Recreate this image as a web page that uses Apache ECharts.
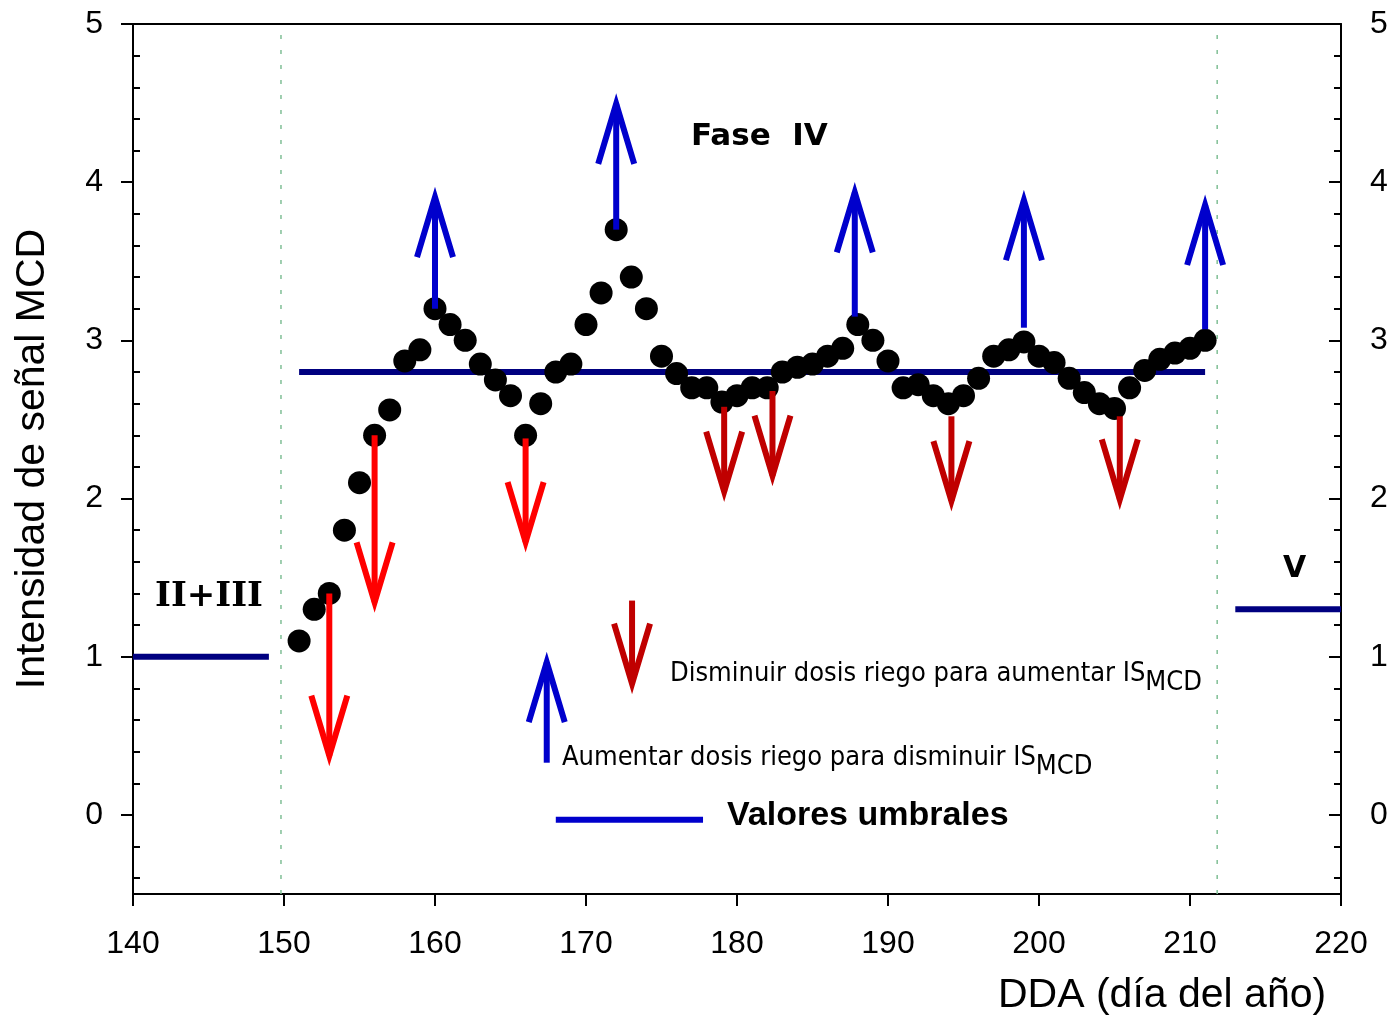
<!DOCTYPE html>
<html><head><meta charset="utf-8">
<script src="https://cdn.jsdelivr.net/npm/echarts@6/dist/echarts.min.js"></script>
<style>html,body{margin:0;padding:0;background:#fff}#c{width:1393px;height:1017px}</style>
</head><body><div id="c"></div>
<script>
// ---- data ----
const days = [151,152,153,154,155,156,157,158,159,160,161,162,163,164,165,166,167,168,169,170,
  171,172,173,174,175,176,177,178,179,180,181,182,183,184,185,186,187,188,189,190,
  191,192,193,194,195,196,197,198,199,200,201,202,203,204,205,206,207,208,209,210,211];
const signal = [1.10,1.30,1.40,1.80,2.10,2.40,2.56,2.87,2.94,3.20,3.10,3.00,2.85,2.75,2.65,2.40,2.60,2.80,2.85,3.10,
  3.30,3.70,3.40,3.20,2.90,2.79,2.70,2.70,2.61,2.65,2.70,2.70,2.80,2.83,2.85,2.90,2.95,3.10,3.00,2.87,
  2.70,2.72,2.65,2.60,2.65,2.76,2.90,2.94,2.99,2.90,2.86,2.76,2.67,2.60,2.57,2.70,2.81,2.88,2.92,2.95,3.00];
// threshold segments: [startDay, endDay, value]
const thresholds = [[140,149,1.0],[151,211,2.8],[213,220,1.3]];
// phase boundaries (dotted vertical lines)
const phaseBoundaries = [149.8, 211.8];
// arrows: [day, from, to]
const increaseArrows = [[160,3.20,3.95],[172,3.70,4.54],[187.8,3.15,3.98],[199,3.08,3.93],[211,3.07,3.90]];
const decreaseArrowsBright = [[153,1.40,0.33],[156,2.40,1.30],[166,2.38,1.68]];
const decreaseArrowsDark = [[179.15,2.58,2.00],[182.35,2.68,2.10],[194.2,2.52,1.94],[205.35,2.52,1.95]];
// legend keys
const legendDecrease = [[173.05,1.355,0.785]];
const legendIncrease = [[167.4,0.33,1.01]];
const legendLine = [[168.0,-0.03],[177.75,-0.03]];
// axis ticks
const xTicks = [140,150,160,170,180,190,200,210,220];
const yTicks = [0,1,2,3,4,5];
const yMinorTicks = [-0.4,-0.2,0.2,0.4,0.6,0.8,1.2,1.4,1.6,1.8,2.2,2.4,2.6,2.8,3.2,3.4,3.6,3.8,4.2,4.4,4.6,4.8];

const FONT = 'Arial, "Liberation Sans", sans-serif';
const COND = '"DejaVu Sans Condensed", "Liberation Sans Narrow", sans-serif';

function arrowRender(color){
  return function(params, api){
    const x = api.value(0), y0 = api.value(1), y1 = api.value(2);
    const p0 = api.coord([x, y0]), p1 = api.coord([x, y1]);
    const dir = p1[1] < p0[1] ? 1 : -1;
    const hl = 60, hw = 18, inset = 7;
    const tx = p1[0], ty = p1[1] + dir * inset;
    return {type:'group', children:[
      {type:'line', shape:{x1:p0[0], y1:p0[1], x2:tx, y2:ty}, style:{stroke:color, lineWidth:6}},
      {type:'polyline', shape:{points:[[tx-hw, ty+dir*hl],[tx, ty],[tx+hw, ty+dir*hl]]},
        style:{stroke:color, lineWidth:6, fill:null, lineJoin:'miter', miterLimit:10}}
    ]};
  };
}
function arrowSeries(data, color){
  return {type:'custom', xAxisIndex:0, yAxisIndex:0, renderItem: arrowRender(color), data: data, z:5, silent:true};
}

const series = [];
phaseBoundaries.forEach(b => series.push({
  type:'line', data:[[b,-0.5],[b,5]], symbol:'none', silent:true, z:1,
  lineStyle:{color:'#7fbf95', width:1.5, type:[4,11]}
}));
thresholds.forEach(t => series.push({
  type:'line', data:[[t[0],t[2]],[t[1],t[2]]], symbol:'none', silent:true, z:2,
  lineStyle:{color:'#000080', width:6, cap:'butt'}
}));
series.push({type:'line', data:legendLine, symbol:'none', silent:true, z:2, lineStyle:{color:'#0000CC', width:6}});
series.push({type:'scatter', data: days.map((d,i)=>[d, signal[i]]), symbol:'circle', symbolSize:23,
  itemStyle:{color:'#000', opacity:1}, z:3, silent:true});
series.push(arrowSeries(increaseArrows, '#0000CC'));
series.push(arrowSeries(decreaseArrowsBright, '#FF0000'));
series.push(arrowSeries(decreaseArrowsDark, '#C00000'));
series.push(arrowSeries(legendDecrease, '#C00000'));
series.push(arrowSeries(legendIncrease, '#0000CC'));

const chart = echarts.init(document.getElementById('c'), null, {renderer:'canvas'});
const axisLine = {show:true, onZero:false, lineStyle:{color:'#000', width:2}};
chart.setOption({
  animation:false,
  backgroundColor:'#fff',
  grid:{left:133, right:52, top:24, bottom:123, containLabel:false, outerBoundsMode:'none'},
  xAxis:[
    {type:'value', position:'bottom', min:140, max:220, interval:10,
     axisLine: axisLine, axisTick:{show:true, length:12, inside:false, lineStyle:{color:'#000', width:2}},
     axisLabel:{fontSize:32, color:'#000', fontFamily:FONT, margin:34, customValues: xTicks},
     splitLine:{show:false}},
    {type:'value', position:'top', min:140, max:220, interval:10,
     axisLine: axisLine, axisTick:{show:false}, axisLabel:{show:false}, splitLine:{show:false}}
  ],
  yAxis:[
    {type:'value', position:'left', min:-0.5, max:5,
     name:'Intensidad de señal MCD', nameLocation:'middle', nameGap:80, nameRotate:90,
     nameTextStyle:{fontSize:41, color:'#000', fontFamily:FONT},
     axisLine: axisLine,
     axisTick:{show:true, inside:false, length:12, customValues:yTicks, lineStyle:{color:'#000', width:2}},
     axisLabel:{fontSize:32, color:'#000', fontFamily:FONT, margin:30, customValues:yTicks},
     splitLine:{show:false}},
    {type:'value', position:'left', min:-0.5, max:5,
     axisLine:{show:false, onZero:false},
     axisTick:{show:true, inside:true, length:7, customValues:yMinorTicks, lineStyle:{color:'#000', width:2}},
     axisLabel:{show:false}, splitLine:{show:false}},
    {type:'value', position:'right', min:-0.5, max:5,
     axisLine: axisLine,
     axisTick:{show:true, inside:true, length:12, customValues:yTicks, lineStyle:{color:'#000', width:2}},
     axisLabel:{fontSize:32, color:'#000', fontFamily:FONT, margin:29, customValues:yTicks},
     splitLine:{show:false}},
    {type:'value', position:'right', min:-0.5, max:5,
     axisLine:{show:false, onZero:false},
     axisTick:{show:true, inside:true, length:7, customValues:yMinorTicks, lineStyle:{color:'#000', width:2}},
     axisLabel:{show:false}, splitLine:{show:false}}
  ],
  series: series,
  graphic:[
    {type:'text', left:998, top:975, style:{text:'DDA (día del año)', font:'41px ' + FONT, fill:'#000'}},
    {type:'text', left:691, top:121, style:{text:'Fase  IV', font:'bold 31px "DejaVu Sans", Verdana, sans-serif', fill:'#000'}},
    {type:'text', left:155, top:580, style:{text:'II+III', font:'bold 34px "DejaVu Serif", serif', fill:'#000'}},
    {type:'text', left:1283, top:554, style:{text:'V', font:'bold 30px "DejaVu Sans", Verdana, sans-serif', fill:'#000'}},
    {type:'text', left:670, top:660, style:{
      text:'{a|Disminuir dosis riego para aumentar IS}{b|MCD}',
      rich:{a:{fontSize:27, fontFamily:COND, fill:'#000'}, b:{fontSize:27, fontFamily:COND, fill:'#000', padding:[18,0,0,0]}}
    }},
    {type:'text', left:562, top:744, style:{
      text:'{a|Aumentar dosis riego para disminuir IS}{b|MCD}',
      rich:{a:{fontSize:27, fontFamily:COND, fill:'#000'}, b:{fontSize:27, fontFamily:COND, fill:'#000', padding:[18,0,0,0]}}
    }},
    {type:'text', left:727, top:799, style:{text:'Valores umbrales', font:'bold 34px ' + FONT, fill:'#000'}}
  ]
});
</script>
</body></html>
